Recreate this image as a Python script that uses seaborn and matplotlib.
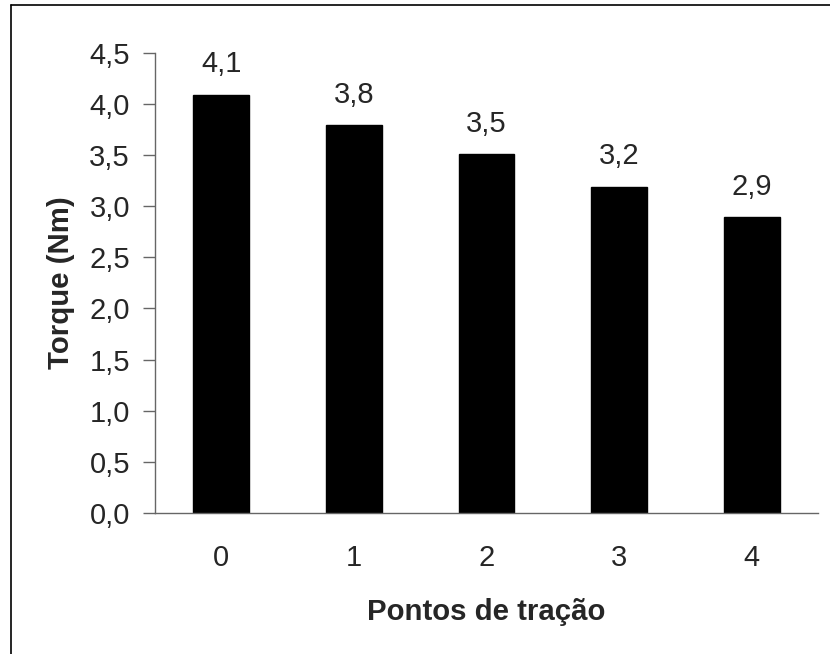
import matplotlib
matplotlib.use("Agg")
import matplotlib.pyplot as plt
from matplotlib.ticker import FuncFormatter, FixedLocator
from matplotlib.lines import Line2D
import seaborn as sns
import pandas as pd

categories = ["0", "1", "2", "3", "4"]
torque = [4.09, 3.79, 3.51, 3.19, 2.89]
bar_labels = ["4,1", "3,8", "3,5", "3,2", "2,9"]

sns.set_style("white")
plt.rcParams["font.family"] = ["Liberation Sans", "DejaVu Sans"]

df = pd.DataFrame({"Pontos de tração": categories, "Torque (Nm)": torque})

fig = plt.figure(figsize=(8.3, 6.54), dpi=100)
ax = fig.add_axes([155 / 830, 1 - 513 / 654, (818 - 155) / 830, (513 - 52.7) / 654])

sns.barplot(data=df, x="Pontos de tração", y="Torque (Nm)", color="black",
            width=0.42, ax=ax, saturation=1)
for p in ax.patches:
    p.set_edgecolor("black")

ax.set_xlim(-0.5, 4.5)
ax.set_ylim(0, 4.5)
ax.set_yticks([i * 0.5 for i in range(10)])
ax.yaxis.set_major_formatter(FuncFormatter(lambda v, _: f"{v:.1f}".replace(".", ",")))

# x ticks between categories
ax.xaxis.set_minor_locator(FixedLocator([i - 0.5 for i in range(6)]))
ax.tick_params(axis="x", which="major", length=0, pad=22, labelsize=21)
ax.tick_params(axis="x", which="minor", length=9, width=1, color="#666666", direction="out")
ax.tick_params(axis="y", which="major", length=9, width=1, color="#666666", direction="out",
               pad=9, labelsize=21, left=True)

for s in ["top", "right"]:
    ax.spines[s].set_visible(False)
for s in ["left", "bottom"]:
    ax.spines[s].set_color("#666666")
    ax.spines[s].set_linewidth(1)

ax.set_xlabel("Pontos de tração", fontsize=21.2, fontweight="bold", labelpad=19)
ax.set_ylabel("Torque (Nm)", fontsize=21.2, fontweight="bold", labelpad=10)

for i, (v, lab) in enumerate(zip(torque, bar_labels)):
    ax.annotate(lab, (i, v), xytext=(0, 16), textcoords="offset points",
                ha="center", va="baseline", fontsize=21)

# outer frame (left and top visible)
fig.add_artist(Line2D([11 / 830, 11 / 830], [0, 1 - 5 / 654], color="black", lw=1.2))
fig.add_artist(Line2D([11 / 830, 1], [1 - 5 / 654, 1 - 5 / 654], color="black", lw=1.2))

fig.savefig("out.png", dpi=100)
